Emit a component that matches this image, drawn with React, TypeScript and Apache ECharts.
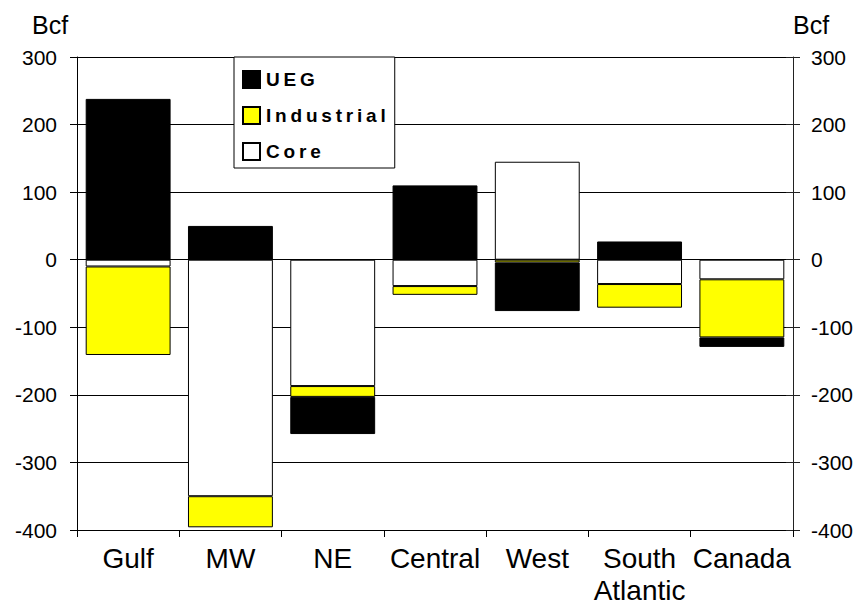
import React, { useEffect, useRef } from "react";
import * as echarts from "echarts";

// Regional change in natural gas demand, Bcf, by sector
const regions = ["Gulf", "MW", "NE", "Central", "West", "South\nAtlantic", "Canada"];
const uegValues = [238, 50, -55, 110, -72, 27, -14];
const industrialValues = [-131, -46, -16, -13, -4, -35, -86];
const coreValues = [-10, -350, -187, -39, 145, -36, -29];
const legendOrder = ["UEG", "Industrial", "Core"];

const FONT = "'Liberation Sans', Arial, sans-serif";

// spread the legend letters a little, like a bold spaced caption
const spaced = (s: string) => s.split("").join("\u2009");

export default function App() {
  const ref = useRef<HTMLDivElement>(null);

  useEffect(() => {
    document.body.style.margin = "0";
    if (!ref.current) return;
    const chart = echarts.init(ref.current, undefined, { renderer: "svg" });

    const barBorder = { borderColor: "#000", borderWidth: 1 };

    const valueAxisBase = {
      type: "value" as const,
      min: -400,
      max: 300,
      interval: 100,
    };

    chart.setOption({
      animation: false,
      backgroundColor: "#fff",
      textStyle: { fontFamily: FONT, color: "#000" },
      grid: {
        left: 77,
        right: 67,
        top: 57,
        bottom: 77,
        containLabel: false,
        outerBoundsMode: "none",
      },
      legend: {
        data: legendOrder,
        orient: "vertical",
        left: 234,
        top: 57,
        padding: [13, 9, 7, 8],
        itemWidth: 17,
        itemHeight: 17,
        itemGap: 17,
        icon: "rect",
        backgroundColor: "#fff",
        borderColor: "#000",
        borderWidth: 1,
        borderRadius: 0,
        formatter: (name: string) => spaced(name),
        textStyle: {
          fontFamily: FONT,
          fontSize: 19,
          lineHeight: 17,
          fontWeight: "bold",
          color: "#000",
          padding: [0, 0, 0, 1],
        },
      },
      xAxis: {
        type: "category",
        data: regions,
        axisLine: { onZero: false, lineStyle: { color: "#000", width: 1 } },
        axisTick: { show: true, alignWithLabel: false, inside: false, length: 7, lineStyle: { color: "#000" } },
        axisLabel: {
          fontFamily: FONT,
          fontSize: 28,
          lineHeight: 32,
          color: "#000",
          margin: 12,
          interval: 0,
        },
        splitLine: { show: false },
      },
      yAxis: [
        {
          ...valueAxisBase,
          position: "left",
          axisLine: { show: true, lineStyle: { color: "#000" } },
          axisTick: { show: true, length: 7, lineStyle: { color: "#000" } },
          axisLabel: { fontFamily: FONT, fontSize: 21, color: "#000", margin: 20 },
          splitLine: { show: true, lineStyle: { color: "#000", width: 1 } },
        },
        {
          ...valueAxisBase,
          position: "right",
          axisLine: { show: true, lineStyle: { color: "#222" } },
          axisTick: { show: true, length: 7, lineStyle: { color: "#222" } },
          axisLabel: { fontFamily: FONT, fontSize: 21, color: "#000", margin: 18 },
          splitLine: { show: false },
        },
        {
          ...valueAxisBase,
          position: "right",
          axisLine: { show: false },
          axisTick: { show: true, inside: true, length: 7, lineStyle: { color: "#222" } },
          axisLabel: { show: false },
          splitLine: { show: false },
        },
      ],
      graphic: [
        {
          type: "text",
          left: 32,
          top: 12,
          style: { text: "Bcf", font: `25px ${FONT}`, fill: "#000" },
        },
        {
          type: "text",
          left: 793,
          top: 12,
          style: { text: "Bcf", font: `25px ${FONT}`, fill: "#000" },
        },
      ],
      series: [
        {
          name: "Core",
          type: "bar",
          stack: "total",
          data: coreValues,
          barCategoryGap: "17%",
          itemStyle: { color: "#ffffff", ...barBorder },
        },
        {
          name: "Industrial",
          type: "bar",
          stack: "total",
          data: industrialValues,
          barCategoryGap: "17%",
          itemStyle: { color: "#ffff00", ...barBorder },
        },
        {
          name: "UEG",
          type: "bar",
          stack: "total",
          data: uegValues,
          barCategoryGap: "17%",
          itemStyle: { color: "#000000", ...barBorder },
        },
      ],
    });

    return () => chart.dispose();
  }, []);

  return <div ref={ref} style={{ width: 860, height: 607 }} />;
}
